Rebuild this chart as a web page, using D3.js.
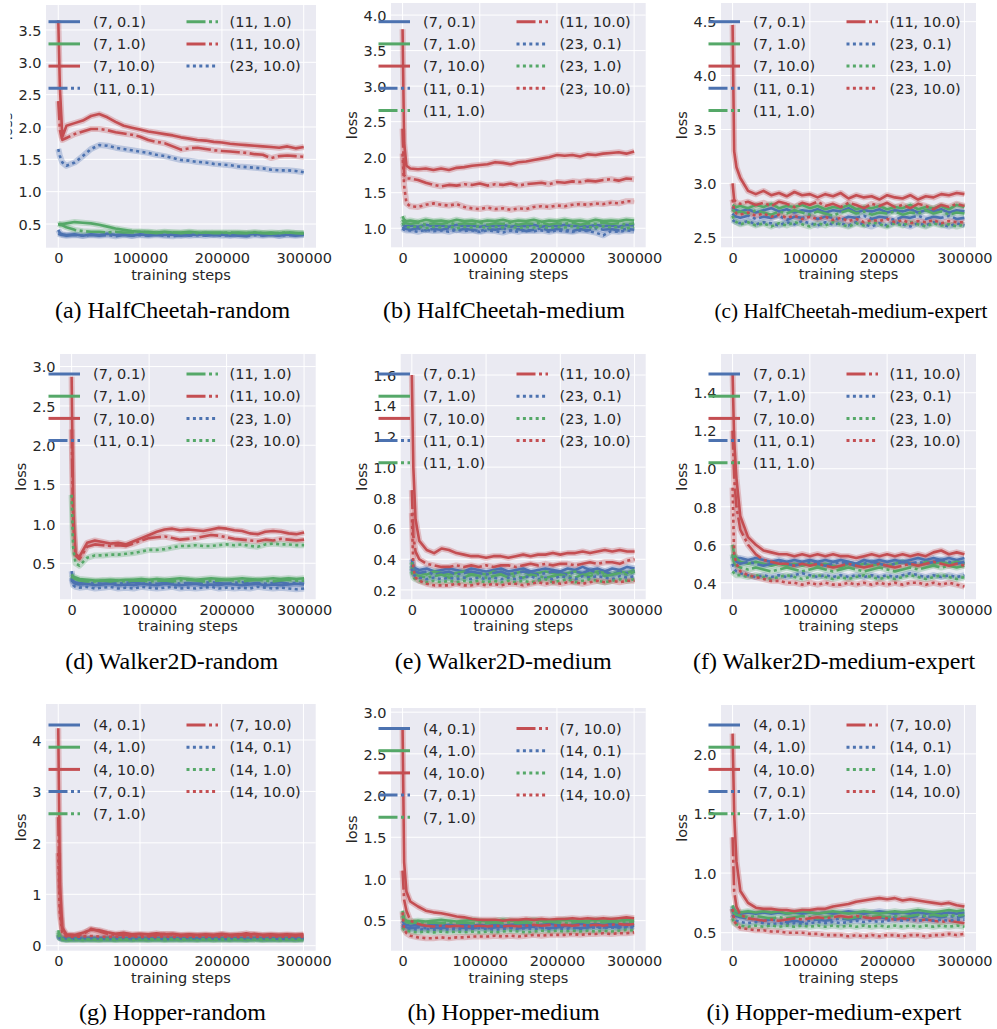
<!DOCTYPE html>
<html>
<head>
<meta charset="utf-8">
<script src="https://cdn.jsdelivr.net/npm/d3@7"></script>
<style>
  body { margin: 0; background: #fff; }
  svg text { font-family: "DejaVu Sans", sans-serif; }
</style>
</head>
<body>
<svg id="fig" width="997" height="1029"></svg>
<script>
// ---- training steps shared by every run ----
const steps = [0, 2000, 5000, 10000, 20000, 30000, 40000, 50000, 60000, 70000, 80000, 90000, 100000,
  110000, 120000, 130000, 140000, 150000, 160000, 170000, 180000, 190000, 200000,
  210000, 220000, 230000, 240000, 250000, 260000, 270000, 280000, 290000, 300000];
const xTicks = [0, 100000, 200000, 300000];

// ---- legend labels: (hidden units, coefficient) ----
const labelsHCRandom = ["(7, 0.1)", "(7, 1.0)", "(7, 10.0)", "(11, 0.1)", "(11, 1.0)", "(11, 10.0)", "(23, 10.0)"];
const labelsFull = ["(7, 0.1)", "(7, 1.0)", "(7, 10.0)", "(11, 0.1)", "(11, 1.0)", "(11, 10.0)", "(23, 0.1)", "(23, 1.0)", "(23, 10.0)"];
const labelsWalkerRandom = ["(7, 0.1)", "(7, 1.0)", "(7, 10.0)", "(11, 0.1)", "(11, 1.0)", "(11, 10.0)", "(23, 1.0)", "(23, 10.0)"];
const labelsHopper = ["(4, 0.1)", "(4, 1.0)", "(4, 10.0)", "(7, 0.1)", "(7, 1.0)", "(7, 10.0)", "(14, 0.1)", "(14, 1.0)", "(14, 10.0)"];

// ---- y tick values ----
const ticksHCRandom = [0.5, 1.0, 1.5, 2.0, 2.5, 3.0, 3.5];
const ticksHCMedium = [1.0, 1.5, 2.0, 2.5, 3.0, 3.5, 4.0];
const ticksHCMedExp = [2.5, 3.0, 3.5, 4.0, 4.5];
const ticksWRandom = [0.5, 1.0, 1.5, 2.0, 2.5, 3.0];
const ticksWMedium = [0.2, 0.4, 0.6, 0.8, 1.0, 1.2, 1.4, 1.6];
const ticksWMedExp = [0.4, 0.6, 0.8, 1.0, 1.2, 1.4];
const ticksHRandom = [0, 1, 2, 3, 4];
const ticksHMedium = [0.5, 1.0, 1.5, 2.0, 2.5, 3.0];
const ticksHMedExp = [0.5, 1.0, 1.5, 2.0];

// ---- loss curves, one row per legend entry ----
const lossHCRandom = [
  [0.41,0.36,0.34, 0.33,0.34,0.32,0.34,0.33,0.35,0.33,0.34,0.32,0.34, 0.33,0.35,0.33,0.34,0.32,0.34,0.33,0.35,0.33,0.34, 0.32,0.34,0.33,0.35,0.33,0.34,0.32,0.34,0.33,0.34],
  [0.49,0.50,0.50, 0.51,0.53,0.52,0.51,0.49,0.46,0.43,0.41,0.39,0.38, 0.38,0.37,0.38,0.37,0.37,0.38,0.37,0.36,0.37,0.37, 0.36,0.37,0.36,0.37,0.36,0.37,0.36,0.37,0.36,0.36],
  [3.65,2.60,1.85, 2.02,2.06,2.10,2.17,2.20,2.15,2.08,2.02,1.99,1.96, 1.93,1.91,1.89,1.87,1.84,1.82,1.80,1.79,1.77,1.76, 1.74,1.73,1.72,1.71,1.70,1.69,1.68,1.70,1.67,1.69],
  [0.35,0.34,0.33, 0.32,0.33,0.32,0.33,0.32,0.33,0.31,0.33,0.32,0.33, 0.32,0.33,0.32,0.31,0.33,0.32,0.33,0.32,0.33,0.32, 0.33,0.32,0.31,0.33,0.32,0.33,0.32,0.33,0.32,0.33],
  [0.50,0.49,0.48, 0.45,0.41,0.39,0.38,0.38,0.37,0.38,0.37,0.37,0.38, 0.37,0.36,0.37,0.37,0.36,0.37,0.36,0.37,0.36,0.36, 0.37,0.36,0.36,0.37,0.36,0.35,0.36,0.37,0.36,0.35],
  [2.40,1.95,1.80, 1.83,1.89,1.93,1.97,1.97,1.95,1.92,1.90,1.88,1.85, 1.80,1.77,1.75,1.70,1.65,1.67,1.68,1.66,1.64,1.63, 1.62,1.61,1.60,1.58,1.57,1.52,1.55,1.56,1.55,1.54],
  [1.66,1.55,1.45, 1.40,1.45,1.55,1.66,1.72,1.71,1.68,1.66,1.64,1.62, 1.60,1.57,1.55,1.52,1.49,1.48,1.46,1.45,1.43,1.42, 1.41,1.39,1.38,1.37,1.36,1.34,1.33,1.33,1.32,1.30]
];
const lossHCMedium = [
  [1.06,1.04,1.03, 1.04,1.02,1.05,1.03,1.04,1.02,1.05,1.03,1.04,1.02, 1.04,1.03,1.05,1.02,1.04,1.03,1.05,1.02,1.04,1.03, 1.05,1.03,1.04,1.02,1.05,1.03,1.04,1.02,1.05,1.04],
  [1.17,1.12,1.10, 1.11,1.09,1.12,1.10,1.11,1.09,1.12,1.10,1.11,1.09, 1.11,1.10,1.12,1.09,1.11,1.10,1.12,1.09,1.11,1.10, 1.12,1.10,1.11,1.09,1.12,1.10,1.11,1.10,1.12,1.11],
  [3.80,2.20,1.88, 1.84,1.83,1.84,1.82,1.84,1.82,1.85,1.86,1.88,1.89, 1.90,1.93,1.92,1.90,1.93,1.94,1.96,1.98,2.00,2.03, 2.02,2.03,2.01,2.04,2.03,2.05,2.06,2.07,2.05,2.08],
  [1.02,1.00,0.99, 0.98,1.00,0.97,0.99,0.98,1.00,0.97,0.99,0.98,0.96, 0.99,0.98,1.00,0.97,0.99,0.96,0.98,1.00,0.97,0.99, 0.98,0.96,0.99,0.97,1.00,0.98,0.99,0.97,0.99,0.98],
  [1.12,1.08,1.07, 1.06,1.08,1.05,1.07,1.06,1.08,1.05,1.07,1.06,1.08, 1.05,1.07,1.06,1.08,1.05,1.07,1.06,1.08,1.05,1.07, 1.06,1.08,1.05,1.07,1.06,1.08,1.06,1.07,1.05,1.07],
  [2.40,1.75,1.70, 1.70,1.68,1.64,1.61,1.59,1.61,1.60,1.62,1.61,1.63, 1.60,1.62,1.61,1.63,1.60,1.62,1.63,1.64,1.62,1.65, 1.64,1.66,1.65,1.67,1.66,1.68,1.69,1.67,1.70,1.69],
  [1.00,0.98,0.97, 0.97,0.95,0.98,0.96,0.97,0.95,0.98,0.96,0.97,0.95, 0.97,0.96,0.94,0.97,0.95,0.98,0.96,0.97,0.95,0.97, 0.96,0.95,0.97,0.96,0.94,0.90,0.96,0.95,0.97,0.96],
  [1.08,1.04,1.02, 1.01,1.03,1.00,1.02,1.01,1.03,1.00,1.02,1.01,1.03, 1.00,1.02,1.01,1.03,1.00,1.02,1.01,1.03,1.00,1.02, 1.01,1.03,1.00,1.02,1.01,1.03,1.01,1.02,1.00,1.02],
  [2.05,1.60,1.35, 1.31,1.30,1.33,1.35,1.33,1.32,1.34,1.30,1.28,1.27, 1.29,1.27,1.28,1.26,1.28,1.27,1.30,1.31,1.30,1.32, 1.31,1.33,1.34,1.33,1.35,1.34,1.36,1.35,1.38,1.38]
];
const lossHCMedExp = [
  [2.78,2.76,2.75, 2.74,2.76,2.73,2.75,2.77,2.74,2.76,2.73,2.75,2.74, 2.76,2.73,2.75,2.74,2.77,2.73,2.75,2.74,2.76,2.73, 2.75,2.74,2.76,2.73,2.75,2.74,2.76,2.73,2.75,2.74],
  [2.80,2.79,2.78, 2.79,2.77,2.80,2.78,2.81,2.77,2.79,2.78,2.80,2.77, 2.79,2.76,2.78,2.77,2.80,2.76,2.78,2.77,2.79,2.76, 2.78,2.77,2.80,2.76,2.78,2.77,2.79,2.76,2.80,2.78],
  [4.47,3.30,3.15, 3.05,2.93,2.90,2.93,2.89,2.91,2.88,2.92,2.89,2.90, 2.87,2.90,2.88,2.91,2.86,2.89,2.87,2.88,2.85,2.89, 2.87,2.86,2.89,2.85,2.88,2.87,2.90,2.89,2.91,2.90],
  [2.72,2.70,2.69, 2.68,2.70,2.67,2.69,2.68,2.70,2.66,2.69,2.68,2.70, 2.67,2.69,2.68,2.66,2.69,2.68,2.70,2.67,2.69,2.68, 2.66,2.69,2.68,2.70,2.67,2.69,2.68,2.70,2.67,2.68],
  [2.76,2.74,2.73, 2.74,2.72,2.75,2.73,2.71,2.74,2.72,2.75,2.73,2.71, 2.74,2.72,2.70,2.73,2.75,2.72,2.74,2.71,2.73,2.72, 2.74,2.71,2.73,2.72,2.75,2.72,2.74,2.71,2.73,2.72],
  [3.00,2.85,2.82, 2.81,2.83,2.80,2.82,2.79,2.83,2.81,2.78,2.82,2.80, 2.83,2.79,2.81,2.78,2.82,2.80,2.77,2.81,2.79,2.82, 2.78,2.80,2.77,2.81,2.79,2.76,2.80,2.78,2.81,2.79],
  [2.66,2.65,2.64, 2.63,2.65,2.62,2.64,2.63,2.61,2.64,2.62,2.65,2.63, 2.61,2.64,2.62,2.63,2.61,2.64,2.62,2.60,2.63,2.61, 2.64,2.62,2.60,2.63,2.61,2.64,2.62,2.60,2.63,2.61],
  [2.70,2.66,2.64, 2.62,2.64,2.61,2.63,2.60,2.63,2.61,2.64,2.62,2.60, 2.63,2.61,2.64,2.62,2.60,2.63,2.61,2.64,2.62,2.60, 2.63,2.61,2.64,2.62,2.60,2.63,2.61,2.62,2.60,2.62],
  [2.85,2.75,2.72, 2.71,2.73,2.70,2.72,2.69,2.71,2.68,2.70,2.67,2.69, 2.67,2.69,2.66,2.68,2.65,2.67,2.64,2.66,2.65,2.67, 2.64,2.66,2.63,2.65,2.64,2.66,2.63,2.65,2.64,2.64]
];
const lossWRandom = [
  [0.40,0.26,0.24, 0.23,0.24,0.22,0.23,0.24,0.22,0.23,0.22,0.24,0.23, 0.22,0.24,0.23,0.22,0.23,0.24,0.22,0.23,0.22,0.24, 0.23,0.22,0.23,0.24,0.22,0.23,0.22,0.23,0.24,0.23],
  [0.36,0.33,0.32, 0.30,0.29,0.28,0.28,0.29,0.28,0.29,0.29,0.30,0.29, 0.30,0.29,0.30,0.31,0.30,0.29,0.30,0.31,0.30,0.29, 0.30,0.31,0.30,0.29,0.30,0.31,0.30,0.31,0.30,0.31],
  [2.87,1.20,0.62, 0.58,0.76,0.79,0.77,0.75,0.76,0.74,0.78,0.82,0.86, 0.90,0.93,0.94,0.92,0.93,0.92,0.91,0.93,0.95,0.94, 0.92,0.91,0.88,0.87,0.90,0.91,0.90,0.88,0.87,0.89],
  [0.32,0.27,0.26, 0.25,0.24,0.25,0.24,0.25,0.24,0.25,0.26,0.24,0.25, 0.24,0.25,0.26,0.24,0.25,0.24,0.25,0.26,0.25,0.24, 0.25,0.26,0.24,0.25,0.24,0.25,0.26,0.24,0.25,0.24],
  [0.33,0.31,0.30, 0.28,0.27,0.27,0.28,0.27,0.28,0.27,0.28,0.28,0.27, 0.28,0.28,0.27,0.28,0.29,0.28,0.27,0.28,0.28,0.29, 0.28,0.27,0.28,0.29,0.28,0.27,0.28,0.29,0.28,0.28],
  [2.20,1.00,0.60, 0.55,0.71,0.74,0.73,0.72,0.73,0.72,0.75,0.79,0.82, 0.83,0.84,0.82,0.80,0.81,0.82,0.84,0.86,0.85,0.83, 0.81,0.80,0.79,0.78,0.80,0.79,0.81,0.80,0.79,0.80],
  [0.30,0.22,0.20, 0.19,0.20,0.18,0.19,0.20,0.18,0.19,0.18,0.20,0.19, 0.18,0.19,0.20,0.18,0.19,0.18,0.19,0.20,0.18,0.19, 0.18,0.19,0.18,0.20,0.19,0.18,0.19,0.18,0.17,0.18],
  [1.37,0.70,0.50, 0.47,0.57,0.60,0.60,0.61,0.61,0.62,0.63,0.65,0.67, 0.67,0.68,0.70,0.72,0.72,0.73,0.72,0.72,0.73,0.74, 0.73,0.74,0.72,0.71,0.74,0.75,0.74,0.74,0.73,0.73]
];
const lossWMedium = [
  [0.40,0.35,0.34, 0.33,0.34,0.32,0.33,0.34,0.33,0.32,0.34,0.33,0.32, 0.33,0.34,0.32,0.33,0.34,0.32,0.33,0.34,0.33,0.32, 0.34,0.33,0.35,0.33,0.34,0.32,0.34,0.33,0.35,0.34],
  [0.38,0.33,0.32, 0.31,0.30,0.32,0.31,0.30,0.31,0.32,0.30,0.31,0.30, 0.32,0.31,0.30,0.31,0.32,0.30,0.31,0.32,0.31,0.30, 0.31,0.32,0.30,0.31,0.32,0.31,0.30,0.32,0.31,0.33],
  [1.60,1.00,0.66, 0.52,0.46,0.44,0.47,0.46,0.44,0.43,0.42,0.42,0.41, 0.42,0.42,0.41,0.42,0.43,0.42,0.43,0.43,0.44,0.43, 0.44,0.44,0.45,0.44,0.45,0.46,0.45,0.46,0.45,0.45],
  [0.36,0.33,0.32, 0.31,0.32,0.30,0.31,0.32,0.30,0.31,0.32,0.31,0.30, 0.31,0.32,0.30,0.31,0.32,0.31,0.30,0.31,0.32,0.31, 0.30,0.32,0.31,0.33,0.31,0.32,0.30,0.32,0.31,0.32],
  [0.35,0.31,0.30, 0.29,0.28,0.29,0.30,0.28,0.29,0.28,0.30,0.29,0.28, 0.29,0.30,0.28,0.29,0.28,0.30,0.29,0.28,0.29,0.30, 0.29,0.28,0.30,0.29,0.31,0.29,0.30,0.31,0.30,0.32],
  [0.85,0.55,0.45, 0.40,0.37,0.36,0.35,0.35,0.36,0.35,0.36,0.35,0.36, 0.35,0.36,0.36,0.35,0.36,0.37,0.36,0.37,0.36,0.37, 0.37,0.36,0.37,0.38,0.37,0.38,0.38,0.37,0.39,0.40],
  [0.34,0.30,0.29, 0.28,0.27,0.28,0.27,0.28,0.27,0.28,0.27,0.28,0.27, 0.28,0.27,0.28,0.27,0.28,0.29,0.27,0.28,0.27,0.29, 0.28,0.27,0.29,0.28,0.29,0.28,0.27,0.29,0.28,0.29],
  [0.32,0.28,0.27, 0.26,0.25,0.26,0.25,0.26,0.25,0.26,0.25,0.26,0.25, 0.26,0.25,0.26,0.25,0.26,0.25,0.26,0.27,0.25,0.26, 0.27,0.25,0.26,0.27,0.26,0.25,0.26,0.27,0.26,0.27],
  [0.70,0.34,0.28, 0.26,0.24,0.23,0.23,0.23,0.24,0.23,0.23,0.24,0.23, 0.24,0.23,0.24,0.24,0.23,0.24,0.25,0.24,0.25,0.24, 0.25,0.25,0.24,0.25,0.26,0.25,0.26,0.25,0.26,0.26]
];
const lossWMedExp = [
  [0.55,0.54,0.53, 0.53,0.52,0.53,0.52,0.51,0.52,0.51,0.52,0.51,0.52, 0.51,0.52,0.51,0.52,0.51,0.50,0.52,0.51,0.52,0.51, 0.52,0.51,0.52,0.53,0.52,0.53,0.52,0.53,0.52,0.53],
  [0.60,0.55,0.53, 0.51,0.50,0.51,0.50,0.49,0.50,0.49,0.50,0.49,0.50, 0.49,0.50,0.49,0.48,0.50,0.49,0.50,0.49,0.50,0.49, 0.50,0.51,0.50,0.49,0.51,0.50,0.51,0.50,0.51,0.50],
  [1.50,1.15,0.95, 0.75,0.64,0.60,0.57,0.56,0.55,0.55,0.54,0.55,0.54, 0.55,0.54,0.55,0.54,0.54,0.53,0.54,0.55,0.54,0.55, 0.54,0.55,0.54,0.55,0.54,0.56,0.57,0.55,0.56,0.55],
  [0.54,0.52,0.51, 0.50,0.51,0.50,0.49,0.50,0.51,0.50,0.49,0.50,0.51, 0.50,0.49,0.50,0.51,0.50,0.49,0.50,0.51,0.50,0.49, 0.50,0.51,0.50,0.51,0.50,0.51,0.52,0.51,0.50,0.51],
  [0.55,0.50,0.49, 0.48,0.47,0.48,0.47,0.46,0.47,0.48,0.47,0.46,0.47, 0.48,0.47,0.46,0.47,0.48,0.47,0.46,0.47,0.48,0.47, 0.46,0.47,0.48,0.47,0.48,0.49,0.48,0.49,0.48,0.49],
  [1.20,0.95,0.80, 0.68,0.60,0.55,0.52,0.51,0.50,0.50,0.49,0.50,0.49, 0.50,0.49,0.48,0.49,0.50,0.49,0.48,0.49,0.50,0.49, 0.48,0.49,0.50,0.49,0.50,0.51,0.50,0.49,0.50,0.49],
  [0.50,0.47,0.46, 0.45,0.44,0.43,0.44,0.43,0.44,0.43,0.44,0.45,0.44, 0.43,0.44,0.43,0.44,0.43,0.44,0.43,0.44,0.43,0.44, 0.43,0.44,0.45,0.44,0.43,0.44,0.43,0.44,0.43,0.44],
  [0.46,0.45,0.44, 0.44,0.43,0.44,0.43,0.42,0.43,0.44,0.43,0.42,0.43, 0.44,0.43,0.42,0.43,0.42,0.43,0.44,0.43,0.42,0.43, 0.42,0.43,0.44,0.43,0.42,0.43,0.44,0.43,0.42,0.43],
  [0.90,0.55,0.50, 0.46,0.44,0.43,0.42,0.41,0.41,0.40,0.40,0.39,0.40, 0.39,0.40,0.39,0.39,0.40,0.39,0.40,0.39,0.40,0.39, 0.40,0.39,0.40,0.40,0.39,0.40,0.39,0.40,0.39,0.38]
];
const lossHRandom = [
  [0.22,0.16,0.14, 0.13,0.14,0.13,0.14,0.13,0.14,0.13,0.14,0.13,0.14, 0.13,0.14,0.13,0.14,0.13,0.14,0.13,0.14,0.13,0.14, 0.13,0.14,0.13,0.14,0.13,0.14,0.13,0.14,0.13,0.14],
  [0.30,0.18,0.14, 0.12,0.13,0.12,0.13,0.12,0.13,0.12,0.13,0.12,0.13, 0.12,0.13,0.12,0.13,0.12,0.13,0.12,0.13,0.12,0.13, 0.12,0.13,0.12,0.13,0.12,0.13,0.12,0.13,0.12,0.13],
  [4.23,1.20,0.35, 0.22,0.21,0.25,0.31,0.30,0.26,0.23,0.25,0.22,0.23, 0.22,0.24,0.22,0.23,0.21,0.22,0.21,0.22,0.21,0.23, 0.21,0.22,0.21,0.23,0.21,0.22,0.21,0.22,0.21,0.22],
  [0.20,0.15,0.14, 0.13,0.13,0.14,0.13,0.14,0.13,0.13,0.14,0.13,0.14, 0.13,0.14,0.13,0.13,0.14,0.13,0.14,0.13,0.14,0.13, 0.13,0.14,0.13,0.14,0.13,0.13,0.14,0.13,0.14,0.13],
  [0.26,0.16,0.13, 0.12,0.12,0.13,0.12,0.12,0.13,0.12,0.12,0.13,0.12, 0.12,0.13,0.12,0.12,0.13,0.12,0.12,0.13,0.12,0.12, 0.13,0.12,0.12,0.13,0.12,0.12,0.13,0.12,0.12,0.12],
  [2.50,0.80,0.30, 0.20,0.20,0.22,0.33,0.28,0.23,0.21,0.22,0.20,0.21, 0.20,0.21,0.23,0.22,0.20,0.21,0.20,0.21,0.20,0.22, 0.20,0.21,0.24,0.21,0.20,0.21,0.20,0.21,0.20,0.21],
  [0.18,0.15,0.14, 0.14,0.15,0.14,0.15,0.14,0.15,0.14,0.15,0.14,0.15, 0.14,0.15,0.14,0.15,0.14,0.15,0.14,0.15,0.14,0.15, 0.14,0.15,0.14,0.15,0.14,0.15,0.14,0.15,0.14,0.15],
  [0.22,0.14,0.12, 0.11,0.12,0.11,0.12,0.11,0.12,0.11,0.12,0.11,0.12, 0.11,0.12,0.11,0.12,0.11,0.12,0.11,0.12,0.11,0.12, 0.11,0.12,0.11,0.12,0.11,0.12,0.11,0.12,0.11,0.12],
  [1.80,0.60,0.25, 0.18,0.17,0.18,0.19,0.18,0.17,0.18,0.17,0.18,0.17, 0.18,0.17,0.18,0.17,0.18,0.17,0.18,0.17,0.18,0.17, 0.18,0.17,0.18,0.17,0.18,0.17,0.18,0.17,0.18,0.17]
];
const lossHMedium = [
  [0.50,0.46,0.45, 0.44,0.45,0.44,0.45,0.44,0.45,0.44,0.45,0.44,0.45, 0.44,0.45,0.44,0.45,0.46,0.45,0.44,0.45,0.46,0.45, 0.44,0.45,0.46,0.45,0.46,0.45,0.46,0.45,0.46,0.45],
  [0.62,0.52,0.50, 0.49,0.50,0.49,0.50,0.51,0.50,0.49,0.50,0.51,0.50, 0.49,0.50,0.51,0.50,0.49,0.50,0.51,0.50,0.49,0.50, 0.51,0.50,0.49,0.50,0.51,0.50,0.51,0.50,0.51,0.50],
  [2.81,1.20,0.85, 0.73,0.67,0.62,0.60,0.59,0.57,0.55,0.54,0.52,0.51, 0.51,0.51,0.50,0.51,0.51,0.52,0.51,0.52,0.51,0.52, 0.52,0.53,0.52,0.53,0.52,0.53,0.52,0.53,0.54,0.53],
  [0.46,0.43,0.42, 0.41,0.42,0.41,0.42,0.41,0.42,0.41,0.42,0.41,0.42, 0.41,0.42,0.43,0.42,0.41,0.42,0.43,0.42,0.41,0.42, 0.43,0.42,0.41,0.42,0.43,0.42,0.43,0.42,0.43,0.44],
  [0.56,0.50,0.48, 0.47,0.48,0.47,0.48,0.47,0.48,0.47,0.48,0.47,0.48, 0.47,0.48,0.47,0.48,0.47,0.48,0.47,0.48,0.49,0.48, 0.47,0.48,0.49,0.48,0.49,0.48,0.49,0.48,0.49,0.48],
  [1.10,0.75,0.62, 0.50,0.46,0.44,0.43,0.44,0.43,0.44,0.43,0.43,0.44, 0.43,0.44,0.43,0.44,0.43,0.44,0.45,0.44,0.45,0.44, 0.45,0.44,0.45,0.44,0.45,0.44,0.45,0.46,0.45,0.46],
  [0.44,0.41,0.40, 0.40,0.39,0.40,0.39,0.40,0.39,0.40,0.39,0.40,0.41, 0.40,0.39,0.40,0.41,0.40,0.41,0.40,0.41,0.40,0.41, 0.40,0.41,0.40,0.41,0.42,0.41,0.42,0.41,0.42,0.42],
  [0.42,0.39,0.38, 0.37,0.36,0.37,0.36,0.37,0.36,0.37,0.36,0.37,0.36, 0.37,0.36,0.37,0.38,0.37,0.36,0.37,0.38,0.37,0.38, 0.37,0.38,0.37,0.38,0.37,0.38,0.37,0.38,0.39,0.38],
  [0.60,0.40,0.35, 0.32,0.30,0.29,0.29,0.30,0.29,0.30,0.30,0.31,0.31, 0.31,0.32,0.31,0.32,0.31,0.32,0.33,0.32,0.33,0.33, 0.33,0.34,0.33,0.34,0.34,0.35,0.34,0.35,0.35,0.36]
];
const lossHMedExp = [
  [0.72,0.68,0.67, 0.66,0.67,0.66,0.67,0.66,0.67,0.66,0.67,0.66,0.67, 0.66,0.67,0.66,0.67,0.68,0.67,0.66,0.67,0.68,0.67, 0.66,0.67,0.66,0.67,0.66,0.67,0.66,0.67,0.66,0.67],
  [0.73,0.69,0.68, 0.67,0.68,0.67,0.68,0.67,0.68,0.66,0.67,0.68,0.67, 0.66,0.67,0.68,0.67,0.66,0.67,0.68,0.67,0.66,0.67, 0.68,0.67,0.68,0.69,0.68,0.67,0.68,0.69,0.68,0.69],
  [2.17,1.50,1.10, 0.85,0.75,0.71,0.70,0.70,0.69,0.69,0.68,0.69,0.69, 0.70,0.70,0.72,0.73,0.74,0.76,0.77,0.78,0.79,0.78, 0.79,0.77,0.78,0.77,0.76,0.75,0.74,0.75,0.73,0.72],
  [0.70,0.65,0.64, 0.63,0.62,0.61,0.60,0.61,0.60,0.59,0.60,0.59,0.60, 0.61,0.60,0.61,0.62,0.61,0.62,0.63,0.62,0.63,0.62, 0.63,0.62,0.63,0.64,0.63,0.64,0.63,0.64,0.63,0.64],
  [0.70,0.66,0.65, 0.64,0.63,0.64,0.63,0.62,0.63,0.62,0.63,0.64,0.63, 0.62,0.63,0.64,0.63,0.62,0.63,0.64,0.63,0.64,0.63, 0.64,0.63,0.64,0.65,0.64,0.65,0.64,0.65,0.64,0.65],
  [1.30,0.85,0.72, 0.65,0.62,0.61,0.60,0.61,0.60,0.61,0.62,0.61,0.62, 0.63,0.62,0.63,0.64,0.63,0.64,0.63,0.62,0.63,0.62, 0.61,0.62,0.61,0.60,0.61,0.60,0.59,0.60,0.59,0.58],
  [0.65,0.62,0.60, 0.59,0.58,0.59,0.58,0.57,0.58,0.57,0.58,0.57,0.58, 0.59,0.58,0.59,0.58,0.59,0.60,0.59,0.60,0.59,0.60, 0.61,0.60,0.61,0.60,0.61,0.60,0.61,0.60,0.61,0.61],
  [0.62,0.58,0.57, 0.56,0.55,0.56,0.55,0.56,0.55,0.56,0.55,0.56,0.55, 0.56,0.55,0.56,0.55,0.56,0.55,0.56,0.55,0.56,0.55, 0.56,0.55,0.56,0.55,0.56,0.55,0.56,0.55,0.56,0.55],
  [0.70,0.60,0.57, 0.54,0.53,0.52,0.52,0.51,0.51,0.50,0.50,0.50,0.49, 0.49,0.48,0.48,0.48,0.47,0.48,0.47,0.48,0.47,0.48, 0.48,0.47,0.48,0.48,0.47,0.48,0.48,0.49,0.48,0.49]
];

// ---- panels ----
const panels = [
  { caption: "(a) HalfCheetah-random", labels: labelsHCRandom, loss: lossHCRandom, ticks: ticksHCRandom, fmt: ".1f" },
  { caption: "(b) HalfCheetah-medium", labels: labelsFull, loss: lossHCMedium, ticks: ticksHCMedium, fmt: ".1f" },
  { caption: "(c) HalfCheetah-medium-expert", labels: labelsFull, loss: lossHCMedExp, ticks: ticksHCMedExp, fmt: ".1f" },
  { caption: "(d) Walker2D-random", labels: labelsWalkerRandom, loss: lossWRandom, ticks: ticksWRandom, fmt: ".1f" },
  { caption: "(e) Walker2D-medium", labels: labelsFull, loss: lossWMedium, ticks: ticksWMedium, fmt: ".1f" },
  { caption: "(f) Walker2D-medium-expert", labels: labelsFull, loss: lossWMedExp, ticks: ticksWMedExp, fmt: ".1f" },
  { caption: "(g) Hopper-random", labels: labelsHopper, loss: lossHRandom, ticks: ticksHRandom, fmt: "d" },
  { caption: "(h) Hopper-medium", labels: labelsHopper, loss: lossHMedium, ticks: ticksHMedium, fmt: ".1f" },
  { caption: "(i) Hopper-medium-expert", labels: labelsHopper, loss: lossHMedExp, ticks: ticksHMedExp, fmt: ".1f" }
];

// ---- page layout: axes boxes, value ranges and text anchors ----
const layout = [
  { left: 46,    top: 5,   right: 316,   bottom: 247.7, y: [0.134, 3.886], legendY: 21.7,  x0: 0,   capX: 172.5, capY: 317.5, labelClip: 10.5 },
  { left: 391,   top: 3,   right: 645.7, bottom: 247.3, y: [0.732, 4.17],  legendY: 21.7,  x0: 330, capX: 504,   capY: 317.5 },
  { left: 721,   top: 3,   right: 976,   bottom: 247.3, y: [2.407, 4.673], legendY: 21.7,  x0: 660, capX: 851,   capY: 317.5, capW: 273, capFS: 21.3 },
  { left: 60,    top: 354, right: 315.7, bottom: 599.3, y: [0.042, 3.16],  legendY: 374,   x0: 0,   capX: 171.7, capY: 669 },
  { left: 400.7, top: 354, right: 645.7, bottom: 599.3, y: [0.139, 1.737], legendY: 374,   x0: 330, capX: 503.3, capY: 669 },
  { left: 721,   top: 354, right: 976,   bottom: 599.3, y: [0.313, 1.604], legendY: 374,   x0: 660, capX: 834,   capY: 669 },
  { left: 46,    top: 704, right: 315.7, bottom: 950.7, y: [-0.097, 4.70], legendY: 725,   x0: 0,   capX: 172.5, capY: 1019.5 },
  { left: 391,   top: 708, right: 645.7, bottom: 950.7, y: [0.14, 3.05],   legendY: 728.5, x0: 330, capX: 503.5, capY: 1019.5 },
  { left: 721,   top: 705, right: 976,   bottom: 950.7, y: [0.349, 2.41],  legendY: 725,   x0: 660, capX: 834,   capY: 1019.5 }
];

const palette = ["#4C72B0", "#55A868", "#C44E52"];
const dashes = [null, "19,3.5,3,3.5", "3,3.4"];
const TEXT = "#262626";
const FS = 14.5;

const svg = d3.select("#fig");
const defs = svg.append("defs");

// style and colour follow the legend: the first number picks the dash, order within it the colour
function styleOf(labels) {
  const groups = [];
  const count = {};
  return labels.map(l => {
    const k = l.slice(1, l.indexOf(","));
    if (!groups.includes(k)) groups.push(k);
    count[k] = (count[k] || 0);
    const s = { color: palette[count[k]], dash: dashes[groups.indexOf(k)] };
    count[k] += 1;
    return s;
  });
}

panels.forEach((p, pi) => {
  const L = layout[pi];
  const g = svg.append("g");
  const x = d3.scaleLinear().domain([-15000, 315000]).range([L.left, L.right]);
  const y = d3.scaleLinear().domain(L.y).range([L.bottom, L.top]);
  const styles = styleOf(p.labels);

  // background and grid
  g.append("rect").attr("x", L.left).attr("y", L.top)
    .attr("width", L.right - L.left).attr("height", L.bottom - L.top).attr("fill", "#EAEAF2");
  g.selectAll(".gx").data(xTicks).join("line")
    .attr("x1", d => x(d)).attr("x2", d => x(d)).attr("y1", L.top).attr("y2", L.bottom)
    .attr("stroke", "#fff").attr("stroke-width", 1);
  g.selectAll(".gy").data(p.ticks).join("line")
    .attr("x1", L.left).attr("x2", L.right).attr("y1", d => y(d)).attr("y2", d => y(d))
    .attr("stroke", "#fff").attr("stroke-width", 1);

  // curves: a soft band underneath, the mean line on top
  const clipId = "clip" + pi;
  defs.append("clipPath").attr("id", clipId).append("rect")
    .attr("x", L.left).attr("y", L.top).attr("width", L.right - L.left).attr("height", L.bottom - L.top);
  const line = d3.line().x(d => x(d[0])).y(d => y(d[1]));
  const cg = g.append("g").attr("clip-path", `url(#${clipId})`);
  p.loss.forEach((vals, si) => {
    const pts = vals.map((v, i) => [steps[i], v]);
    cg.append("path").attr("d", line(pts)).attr("fill", "none")
      .attr("stroke", styles[si].color).attr("stroke-opacity", 0.3)
      .attr("stroke-width", 6).attr("stroke-linejoin", "round");
  });
  p.loss.forEach((vals, si) => {
    const pts = vals.map((v, i) => [steps[i], v]);
    cg.append("path").attr("d", line(pts)).attr("fill", "none")
      .attr("stroke", styles[si].color).attr("stroke-width", 2.6)
      .attr("stroke-dasharray", styles[si].dash)
      .attr("stroke-linejoin", "round");
  });

  // axes
  const xa = g.append("g").attr("transform", `translate(0,${L.bottom})`)
    .call(d3.axisBottom(x).tickValues(xTicks).tickSize(0).tickPadding(5).tickFormat(d3.format("d")));
  const ya = g.append("g").attr("transform", `translate(${L.left},0)`)
    .call(d3.axisLeft(y).tickValues(p.ticks).tickSize(0).tickPadding(4.5).tickFormat(d3.format(p.fmt)));
  [xa, ya].forEach(a => {
    a.select(".domain").remove();
    a.attr("font-family", null).attr("font-size", null);
    a.selectAll("text").attr("fill", TEXT).style("font-size", FS + "px")
      .style("font-family", '"DejaVu Sans", sans-serif');
  });
  ya.selectAll("text").attr("dy", "0.36em");

  // axis titles
  g.append("text").attr("x", (x(0) + x(300000)) / 2).attr("y", L.bottom + 32)
    .attr("text-anchor", "middle").attr("fill", TEXT).style("font-size", FS + "px").text("training steps");
  let tw = 0;
  ya.selectAll("text").each(function () { tw = Math.max(tw, this.getBBox().width); });
  const lx = L.left - 4.5 - tw - 6;
  const yl = g.append("text")
    .attr("transform", `translate(${lx},${(L.top + L.bottom) / 2}) rotate(-90)`)
    .attr("text-anchor", "middle").attr("fill", TEXT).style("font-size", FS + "px").text("loss");
  if (L.labelClip !== undefined) {
    // the left edge of this panel trims the title; in the rotated frame local y maps to page x
    const id = "lclip" + pi;
    defs.append("clipPath").attr("id", id).attr("clipPathUnits", "userSpaceOnUse")
      .append("rect").attr("x", -200).attr("y", L.labelClip - lx).attr("width", 400).attr("height", 100);
    yl.attr("clip-path", `url(#${id})`);
  }

  // legend, two columns filled top to bottom
  const n = p.labels.length;
  const perCol = Math.ceil(n / 2);
  const lg = g.append("g");
  p.labels.forEach((lab, i) => {
    const col = i < perCol ? 0 : 1;
    const row = col === 0 ? i : i - perCol;
    const yy = L.legendY + row * 22.2;
    const hx = L.x0 + 48.5 + col * 138;
    lg.append("line").attr("x1", hx).attr("x2", hx + 31.5).attr("y1", yy).attr("y2", yy)
      .attr("stroke", styles[i].color).attr("stroke-width", 3)
      .attr("stroke-dasharray", styles[i].dash);
    lg.append("text").attr("x", L.x0 + 93 + col * 136.5).attr("y", yy + 5.2)
      .attr("fill", TEXT).style("font-size", FS + "px").text(lab);
  });

  // caption
  const cap = svg.append("text").attr("x", L.capX).attr("y", L.capY).attr("text-anchor", "middle")
    .attr("fill", "#000").style("font-family", '"Liberation Serif", "Times New Roman", serif')
    .style("font-size", (L.capFS || 24) + "px").text(p.caption);
  if (L.capW) cap.attr("textLength", L.capW).attr("lengthAdjust", "spacingAndGlyphs");
});
</script>
</body>
</html>
